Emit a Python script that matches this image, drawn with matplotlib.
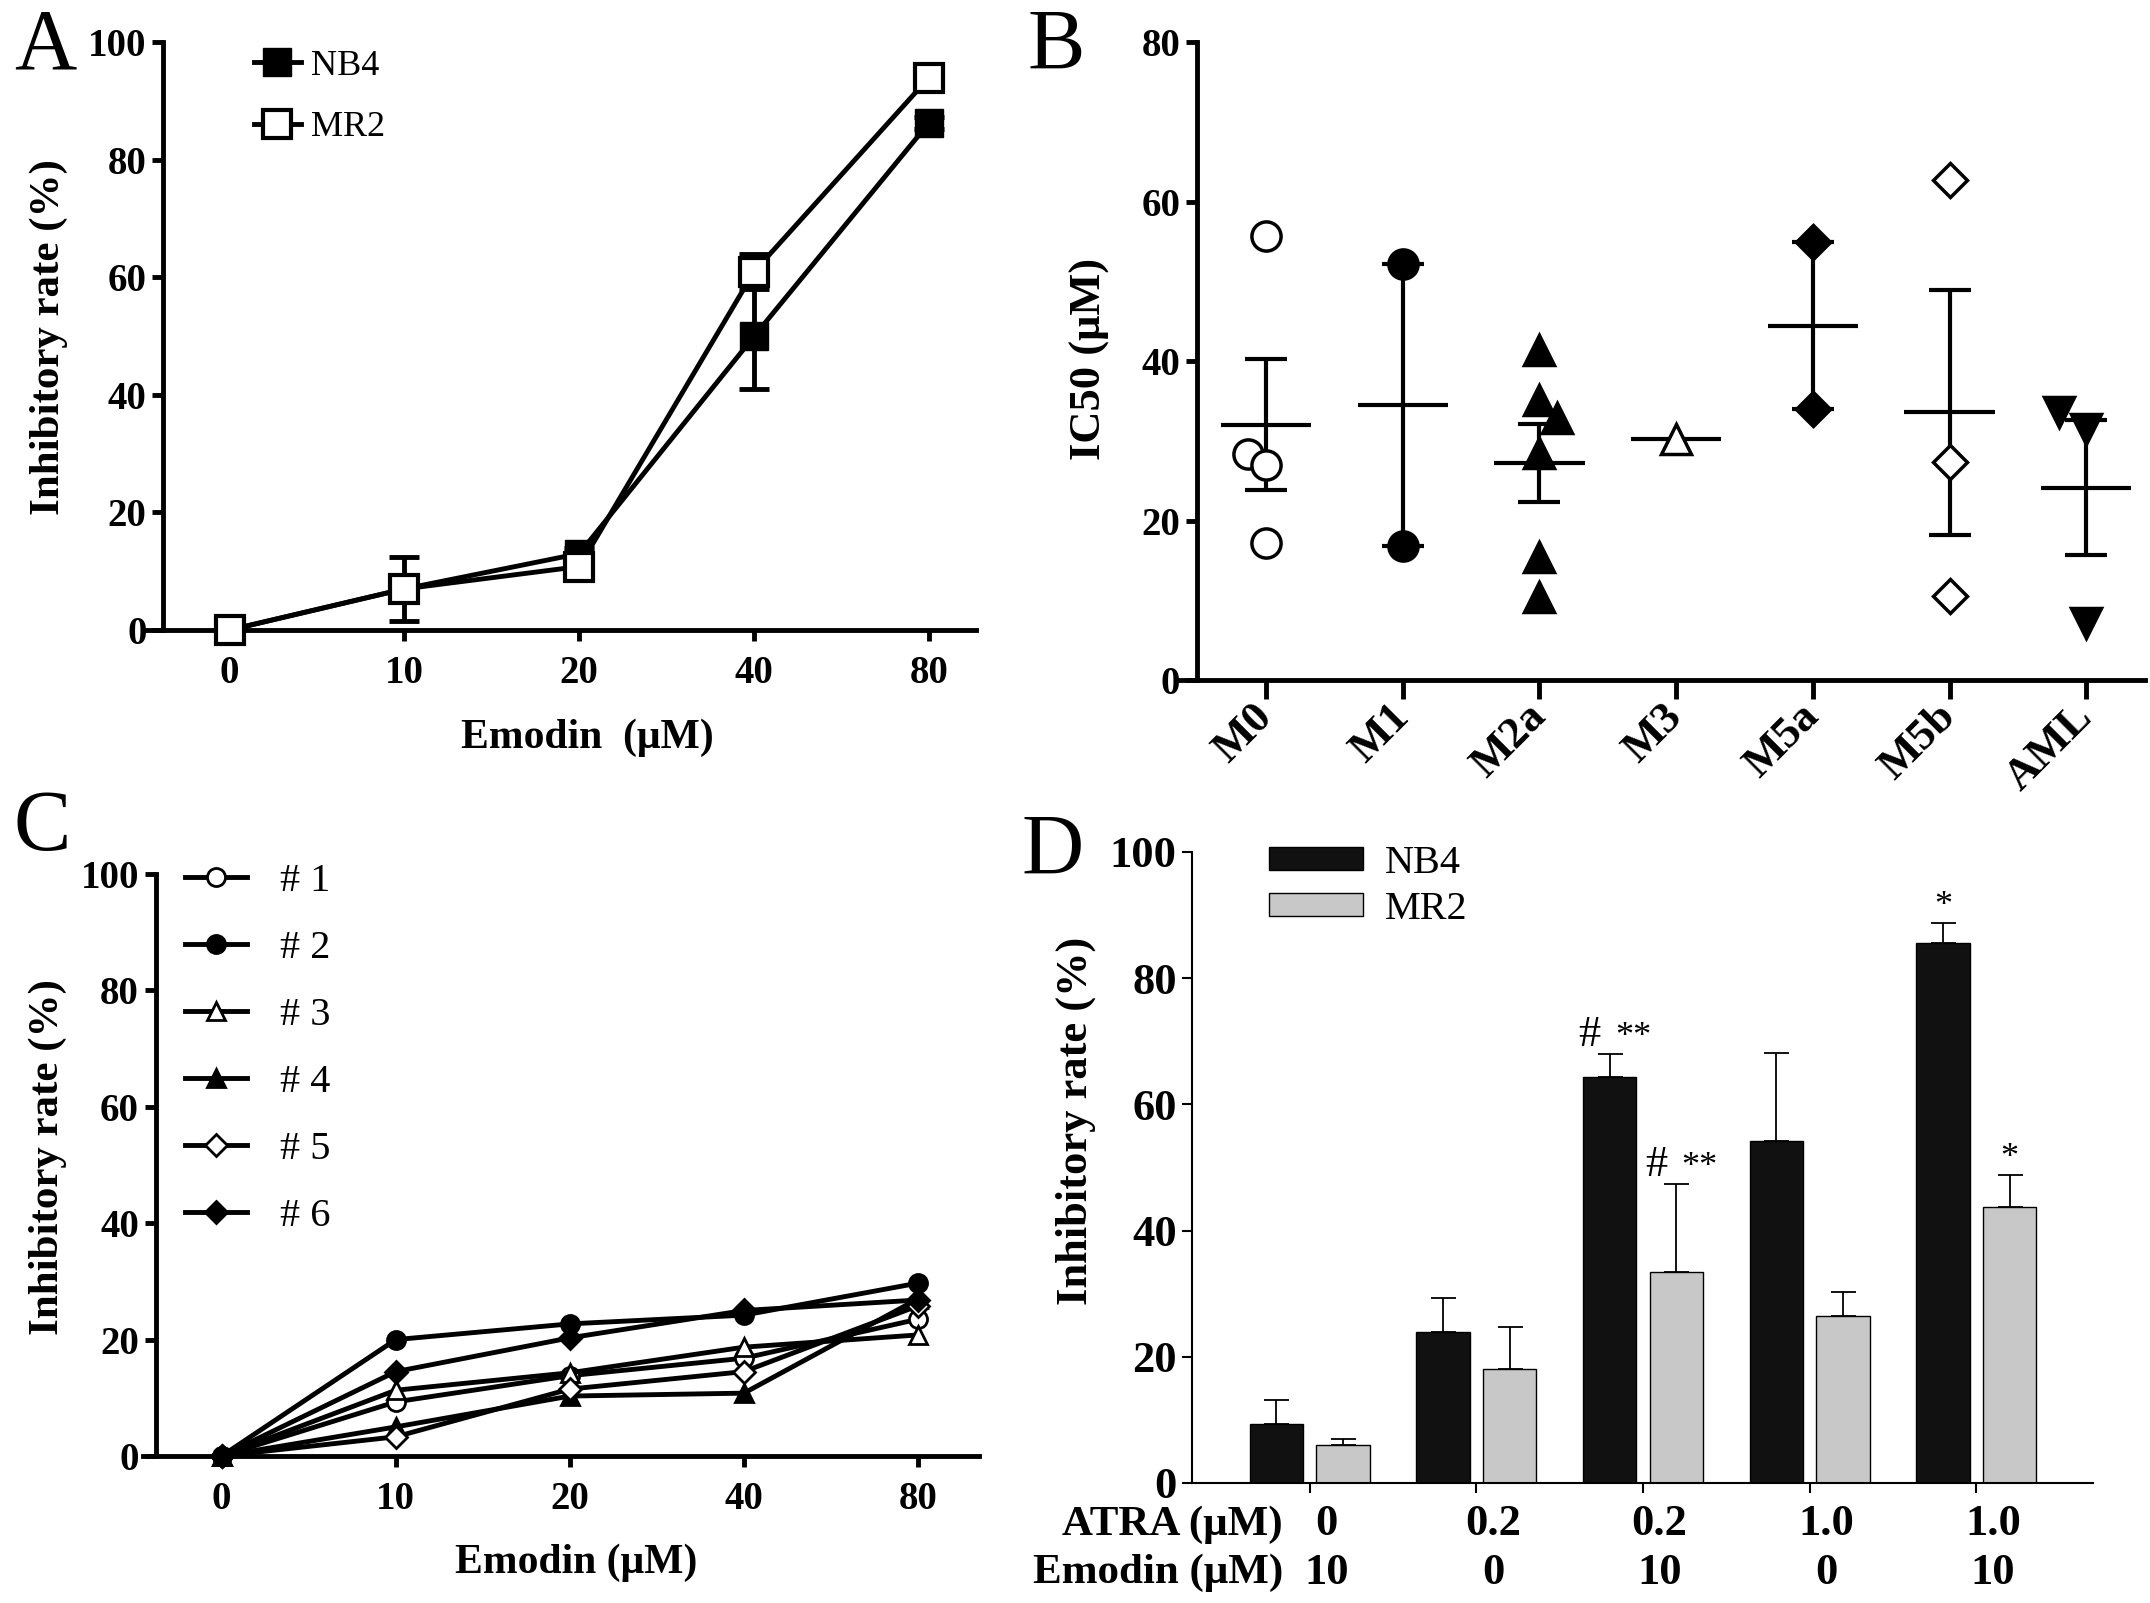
import numpy as np
import matplotlib.pyplot as plt
from matplotlib import transforms

plt.rcParams['font.family'] = ['Liberation Serif', 'DejaVu Serif']

# ---- A: emodin dose response, NB4 vs MR2
dose_labels = ['0', '10', '20', '40', '80']
nb4_a = [0.0, 7.0, 13.0, 50.0, 86.3]
nb4_a_err = [0.0, 5.5, 1.0, 9.0, 1.0]
mr2_a = [0.0, 7.0, 10.8, 61.0, 94.0]
mr2_a_err = [0.0, 1.0, 2.3, 3.0, 2.0]

# ---- B: IC50 by AML subtype
subtypes = ['M0', 'M1', 'M2a', 'M3', 'M5a', 'M5b', 'AML']
ic50_m0 = [55.7, 28.3, 27.0, 17.2]
ic50_m1 = [52.2, 16.8]
ic50_m2a = [41.4, 35.1, 32.9, 28.5, 15.4, 10.4]
ic50_m3 = [30.3]
ic50_m5a = [54.9, 34.0]
ic50_m5b = [62.8, 27.4, 10.6]
ic50_aml = [33.6, 31.5, 7.2]
# horizontal nudge of overlapping points (GraphPad style scatter)
nudge_m0 = [0, -0.13, 0, 0]
nudge_m1 = [0, 0]
nudge_m2a = [0, 0, 0.13, 0, 0, 0]
nudge_m3 = [0]
nudge_m5a = [0, 0]
nudge_m5b = [0, 0, 0]
nudge_aml = [-0.2, 0, 0]

# ---- C: primary cells
patient_labels = ['# 1', '# 2', '# 3', '# 4', '# 5', '# 6']
pt1 = [0.0, 9.3, 13.8, 16.8, 23.5]
pt2 = [0.0, 20.0, 22.7, 24.2, 29.7]
pt3 = [0.0, 11.3, 14.3, 18.7, 20.8]
pt4 = [0.0, 5.0, 10.3, 10.8, 27.0]
pt5 = [0.0, 3.3, 11.5, 14.5, 25.8]
pt6 = [0.0, 14.5, 20.3, 25.0, 26.8]

# ---- D: ATRA + emodin
atra_conc = ['0', '0.2', '0.2', '1.0', '1.0']
emodin_conc = ['10', '0', '10', '0', '10']
nb4_d = [9.3, 24.0, 64.3, 54.2, 85.6]
nb4_d_err = [3.8, 5.3, 3.7, 14.0, 3.2]
mr2_d = [6.0, 18.0, 33.5, 26.5, 43.8]
mr2_d_err = [1.0, 6.7, 13.9, 3.7, 5.0]
hash_nb4 = ['', '', '#', '', '']
star_nb4 = ['', '', '**', '', '*']
hash_mr2 = ['', '', '#', '', '']
star_mr2 = ['', '', '**', '', '*']


def clean(ax, lw, tlen):
    ax.spines['top'].set_visible(False)
    ax.spines['right'].set_visible(False)
    ax.spines['left'].set_linewidth(lw)
    ax.spines['bottom'].set_linewidth(lw)
    ax.tick_params(direction='out', length=tlen, width=lw, pad=4)


fig = plt.figure(figsize=(21.5, 16.03), dpi=100)

# ================= A
axA = fig.add_axes([0.0682, 0.607, 0.3858, 0.3665])
x = np.arange(len(dose_labels))
axA.errorbar(x, nb4_a, yerr=nb4_a_err, fmt='none', ecolor='k', elinewidth=3.5,
             capsize=11, capthick=3.5, zorder=2)
axA.plot(x, nb4_a, color='k', lw=3.5, marker='s', ms=20, mfc='k', mec='k',
         label='NB4', clip_on=False, zorder=3)
axA.errorbar(x, mr2_a, yerr=mr2_a_err, fmt='none', ecolor='k', elinewidth=3.5,
             capsize=11, capthick=3.5, zorder=4)
axA.plot(x, mr2_a, color='k', lw=3.5, marker='s', ms=20, mfc='white', mec='k',
         mew=3, label='MR2', clip_on=False, zorder=5)
axA.set_xlim(-0.475, 4.27)
axA.set_ylim(0, 100)
axA.spines['left'].set_position(('data', -0.38))
clean(axA, 3.5, 8)
axA.tick_params(axis='x', pad=10)
axA.set_xticks(x, labels=dose_labels, fontweight='bold', fontsize=28)
axA.set_yticks(np.arange(0, 101, 20), labels=[str(v) for v in range(0, 101, 20)],
               fontweight='bold', fontsize=28)
axA.legend(loc='upper left', bbox_to_anchor=(0.118, 0.969), bbox_transform=fig.transFigure,
           frameon=False, fontsize=26, handlelength=1.3, handletextpad=0.3,
           labelspacing=0.78, borderpad=0, borderaxespad=0)
fig.text(0.273, 0.5396, 'Emodin  (\u03bcM)', ha='center', va='center', fontsize=30, fontweight='bold')
fig.text(0.0228, 0.79, 'Inhibitory rate (%)', ha='center', va='center', rotation=90,
         fontsize=31, fontweight='bold')
fig.text(0.0065, 0.97, 'A', ha='left', va='center', fontsize=62)

# ================= B
axB = fig.add_axes([0.547, 0.5758, 0.4507, 0.3977])
b_groups = [ic50_m0, ic50_m1, ic50_m2a, ic50_m3, ic50_m5a, ic50_m5b, ic50_aml]
b_nudges = [nudge_m0, nudge_m1, nudge_m2a, nudge_m3, nudge_m5a, nudge_m5b, nudge_aml]
b_markers = ['o', 'o', '^', '^', 'D', 'D', 'v']
b_filled = [False, True, True, False, True, False, True]
b_sizes = [21, 21, 21, 21, 17, 17, 21]
for i, vals in enumerate(b_groups):
    vals = np.array(vals)
    xs = i + np.array(b_nudges[i])
    axB.plot(xs, vals, ls='none', marker=b_markers[i], ms=b_sizes[i],
             mfc='k' if b_filled[i] else 'white', mec='k', mew=2.5, zorder=3, clip_on=False)
    m = vals.mean()
    axB.hlines(m, i - 0.33, i + 0.33, color='k', lw=3, zorder=2)
    if len(vals) > 1:
        sem = vals.std(ddof=1) / np.sqrt(len(vals))
        axB.errorbar(i, m, yerr=sem, fmt='none', ecolor='k', elinewidth=3,
                     capsize=15, capthick=3, zorder=2)
axB.set_xlim(-0.658, 6.43)
axB.set_ylim(0, 80)
axB.spines['left'].set_position(('data', -0.505))
clean(axB, 3.5, 8)
axB.set_xticks(range(len(subtypes)), labels=subtypes, rotation=45, ha='right',
               va='center', rotation_mode='anchor', fontweight='bold', fontsize=32)
axB.tick_params(axis='x', length=14, pad=8)
axB.set_yticks(np.arange(0, 81, 20), labels=[str(v) for v in range(0, 81, 20)],
               fontweight='bold', fontsize=28)
fig.text(0.507, 0.776, 'IC50 (\u03bcM)', ha='center', va='center', rotation=90,
         fontsize=32, fontweight='bold')
fig.text(0.478, 0.97, 'B', ha='left', va='center', fontsize=62)

# ================= C
axC = fig.add_axes([0.0667, 0.0917, 0.3886, 0.3631])
patients = [pt1, pt2, pt3, pt4, pt5, pt6]
c_markers = ['o', 'o', '^', '^', 'D', 'D']
c_filled = [False, True, False, True, False, True]
c_sizes = [13, 13, 13, 13, 11, 11]
for vals, mk, fl, sz, lab in zip(patients, c_markers, c_filled, c_sizes, patient_labels):
    axC.plot(x, vals, color='k', lw=3.5, marker=mk, ms=sz, mfc='k' if fl else 'white',
             mec='k', mew=2, label=lab, clip_on=False)
axC.set_xlim(-0.45, 4.35)
axC.set_ylim(0, 100)
axC.spines['left'].set_position(('data', -0.38))
clean(axC, 3.5, 8)
axC.tick_params(axis='x', pad=10)
axC.set_xticks(x, labels=dose_labels, fontweight='bold', fontsize=28)
axC.set_yticks(np.arange(0, 101, 20), labels=[str(v) for v in range(0, 101, 20)],
               fontweight='bold', fontsize=28)
axC.legend(loc='upper left', bbox_to_anchor=(0.086, 0.462), bbox_transform=fig.transFigure,
           frameon=False, fontsize=29, handlelength=1.55, handletextpad=0.8,
           labelspacing=0.74, borderpad=0, borderaxespad=0)
fig.text(0.268, 0.025, 'Emodin (\u03bcM)', ha='center', va='center', fontsize=30, fontweight='bold')
fig.text(0.0223, 0.278, 'Inhibitory rate (%)', ha='center', va='center', rotation=90,
         fontsize=31, fontweight='bold')
fig.text(0.0065, 0.483, 'C', ha='left', va='center', fontsize=62)

# ================= D
axD = fig.add_axes([0.5544, 0.0749, 0.4191, 0.3936])
gx = np.arange(len(atra_conc))
zeros = np.zeros(len(gx))
axD.bar(gx - 0.2, nb4_d, width=0.32, color='#111111', edgecolor='k', lw=1, label='NB4')
axD.bar(gx + 0.2, mr2_d, width=0.32, color='#c8c8c8', edgecolor='k', lw=1, label='MR2')
axD.errorbar(gx - 0.2, nb4_d, yerr=[zeros, nb4_d_err], fmt='none', ecolor='k',
             elinewidth=1.3, capsize=9, capthick=1.3)
axD.errorbar(gx + 0.2, mr2_d, yerr=[zeros, mr2_d_err], fmt='none', ecolor='k',
             elinewidth=1.3, capsize=9, capthick=1.3)
for i in gx:
    for off, vals, errs, hs, st in [(-0.2, nb4_d, nb4_d_err, hash_nb4, star_nb4),
                                    (0.2, mr2_d, mr2_d_err, hash_mr2, star_mr2)]:
        top = vals[i] + errs[i] + 1.2
        if hs[i]:
            axD.text(i + off - 0.12, top, hs[i], ha='center', va='baseline', fontsize=32)
            axD.text(i + off + 0.14, top, st[i], ha='center', va='baseline', fontsize=26)
        elif st[i]:
            axD.text(i + off, top, st[i], ha='center', va='baseline', fontsize=26)
axD.set_xlim(-0.706, 4.70)
axD.set_ylim(0, 100)
clean(axD, 1.5, 7)
axD.set_xticks(gx, labels=[''] * len(gx))
axD.set_yticks(np.arange(0, 101, 20), labels=[str(v) for v in range(0, 101, 20)],
               fontweight='bold', fontsize=32)
axD.legend(loc='upper left', bbox_to_anchor=(0.590, 0.473), bbox_transform=fig.transFigure,
           frameon=False, fontsize=29, handlelength=2.35, handleheight=0.5,
           handletextpad=0.55, labelspacing=0.22, borderpad=0, borderaxespad=0)
trD = transforms.blended_transform_factory(axD.transData, fig.transFigure)
row_atra, row_emodin = 0.049, 0.019
fig.text(0.5967, row_atra, 'ATRA (\u03bcM)', ha='right', va='center', fontsize=31, fontweight='bold')
fig.text(0.5967, row_emodin, 'Emodin (\u03bcM)', ha='right', va='center', fontsize=31, fontweight='bold')
for i in gx:
    axD.text(i + 0.1, row_atra, atra_conc[i], transform=trD, ha='center', va='center',
             fontsize=32, fontweight='bold')
    axD.text(i + 0.1, row_emodin, emodin_conc[i], transform=trD, ha='center', va='center',
             fontsize=32, fontweight='bold')
fig.text(0.5005, 0.301, 'Inhibitory rate (%)', ha='center', va='center', rotation=90,
         fontsize=32, fontweight='bold')
fig.text(0.475, 0.468, 'D', ha='left', va='center', fontsize=62)

fig.savefig('out.png', dpi=100)
